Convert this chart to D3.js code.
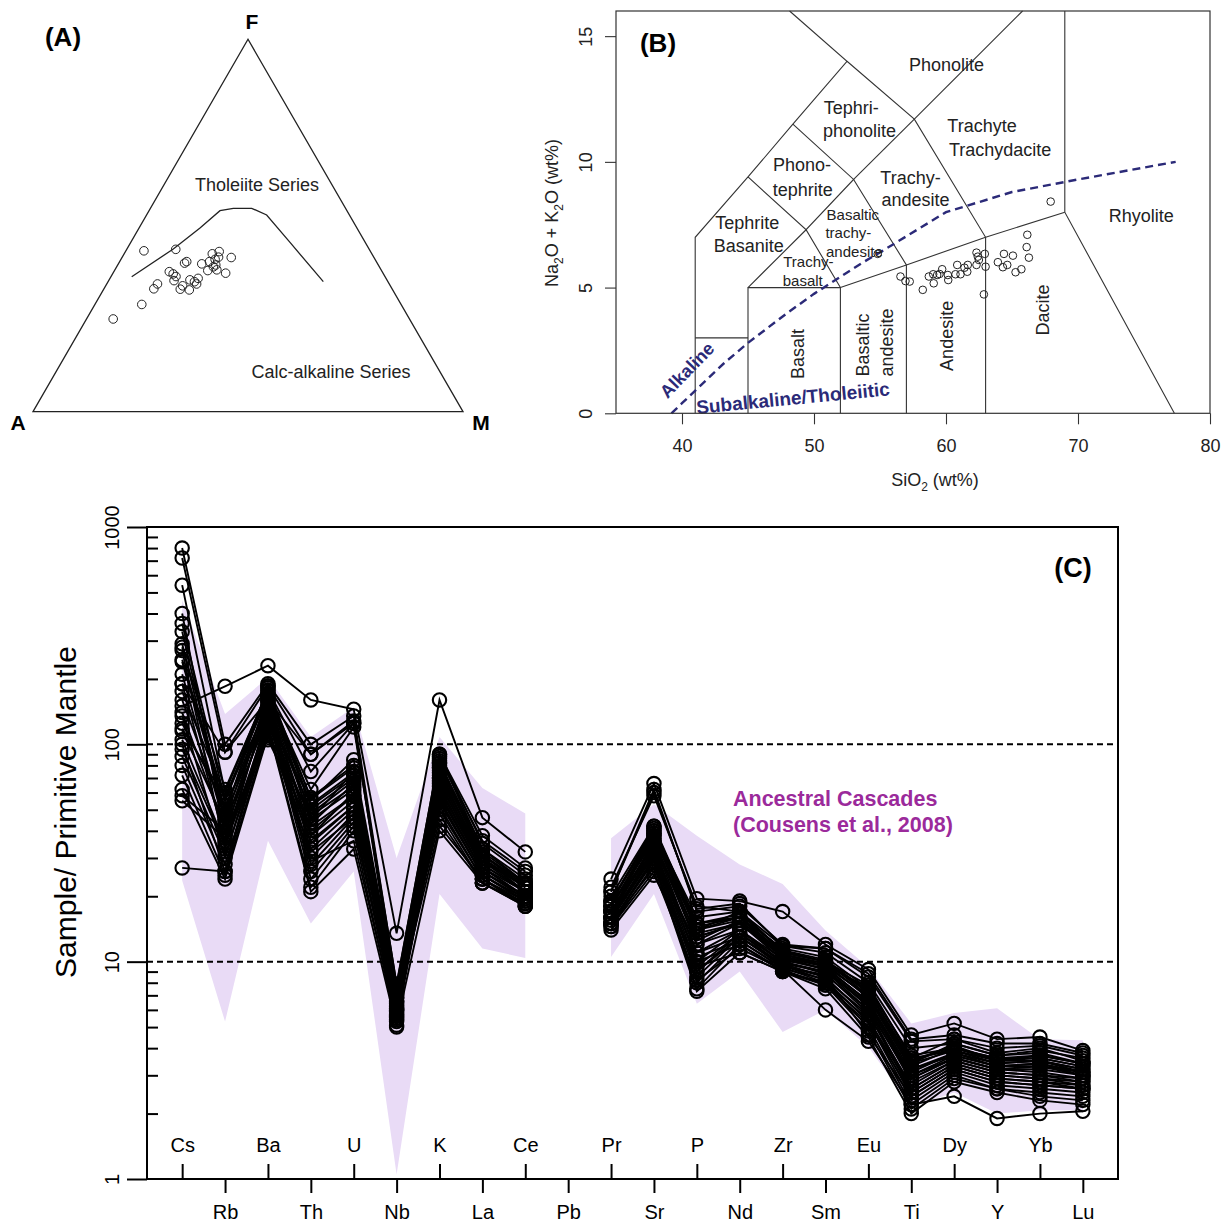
<!DOCTYPE html>
<html><head><meta charset="utf-8">
<script src="https://cdn.jsdelivr.net/npm/d3@7"></script>
<style>
body{margin:0;background:#fff}
svg{display:block}
text{font-family:"Liberation Sans",Arial,Helvetica,sans-serif}
</style>
</head><body>
<svg id="c" width="1222" height="1224"></svg>
<script>
// ================= DATA =================
// Panel A: AFM ternary (percent F and M; A = 100 - F - M)
const afmCurveF = [36.25, 43.69, 49.33, 53.97, 54.62, 54.62, 52.82, 45.46, 34.91];
const afmCurveM = [4.83, 10.78, 14.17, 16.5, 19.28, 23.55, 27.93, 37.04, 50.06];
const afmF = [43.2,43.6,34.3,33.0,28.8,24.9,37.6,37.0,36.3,35.2,33.8,32.9,32.7,39.9,40.3,35.4,34.9,35.8,34.3,39.7,37.9,40.3,42.4,40.9,38.9,38.1,43.0,41.5,39.4,41.4,37.2];
const afmM = [4.2,11.4,11.8,11.6,10.9,6.2,12.9,14.1,15.1,15.2,17.9,17.8,20.0,15.3,15.6,18.8,20.1,20.5,20.9,19.4,21.7,20.9,20.5,21.9,22.5,23.7,21.8,22.4,22.8,25.4,26.2];

// Panel B: TAS diagram
const tasSiO2 = [56.55,56.93,57.25,58.24,58.70,59.03,59.07,59.33,59.51,59.71,60.14,60.17,60.72,60.85,61.10,61.40,61.61,61.65,62.31,62.41,62.31,62.49,62.94,63.00,62.87,63.93,64.39,64.64,64.31,65.07,65.27,65.71,66.16,66.11,66.28,67.93,54.83];
const tasAlk  = [5.44,5.26,5.24,4.91,5.44,5.53,5.17,5.50,5.54,5.73,5.50,5.30,5.53,5.90,5.53,5.79,5.63,5.90,6.39,6.23,5.90,6.10,6.34,5.83,4.73,6.01,6.34,5.90,5.81,6.27,5.61,5.73,7.10,6.61,6.19,8.42,6.34];
const tasFields = [
  [[41,0],[41,7],[45,9.4],[48.4,11.5],[52.5,14],[48.15,16]],
  [[41,3],[45,3]],
  [[45,0],[45,5],[52,5],[52,0]],
  [[45,5],[49.4,7.3],[52,5]],
  [[45,9.4],[49.4,7.3],[53,9.3],[48.4,11.5]],
  [[53,9.3],[57.6,11.7]],
  [[52,5],[57,5.9],[63,7],[69,8]],
  [[57,0],[57,5.9],[53,9.3]],
  [[63,0],[63,7],[57.6,11.7],[52.5,14]],
  [[57.6,11.7],[65.8,16]],
  [[69,16],[69,8],[77.3,0]]
];
const ibSiO2 = [39.2,40,43.2,45,48,50,53.7,55,60,65,70,77.4];
const ibAlk  = [0,0.4,2.0,2.8,4.0,4.75,6.0,6.4,8.0,8.8,9.3,10.0];
const tasLabels = [
  {t:"Phonolite",x:60.04,y:13.86,rot:0,small:false},
  {t:"Tephri-",x:52.83,y:12.15,rot:0,small:false},
  {t:"phonolite",x:53.44,y:11.24,rot:0,small:false},
  {t:"Phono-",x:49.09,y:9.88,rot:0,small:false},
  {t:"tephrite",x:49.15,y:8.91,rot:0,small:false},
  {t:"Trachyte",x:62.73,y:11.44,rot:0,small:false},
  {t:"Trachydacite",x:64.10,y:10.50,rot:0,small:false},
  {t:"Trachy-",x:57.31,y:9.38,rot:0,small:false},
  {t:"andesite",x:57.69,y:8.49,rot:0,small:false},
  {t:"Tephrite",x:44.94,y:7.59,rot:0,small:false},
  {t:"Basanite",x:45.05,y:6.68,rot:0,small:false},
  {t:"Basaltic",x:52.94,y:7.89,rot:0,small:true},
  {t:"trachy-",x:52.60,y:7.17,rot:0,small:true},
  {t:"andesite",x:53.06,y:6.42,rot:0,small:true},
  {t:"Trachy-",x:49.57,y:6.04,rot:0,small:true},
  {t:"basalt",x:49.15,y:5.26,rot:0,small:true},
  {t:"Basalt",x:48.77,y:2.36,rot:-90,small:false},
  {t:"Basaltic",x:53.70,y:2.72,rot:-90,small:false},
  {t:"andesite",x:55.52,y:2.82,rot:-90,small:false},
  {t:"Andesite",x:60.04,y:3.08,rot:-90,small:false},
  {t:"Dacite",x:67.36,y:4.11,rot:-90,small:false},
  {t:"Rhyolite",x:74.80,y:7.86,rot:0,small:false}
];

// Panel C: primitive-mantle normalised spider diagram
const elements = ["Cs","Rb","Ba","Th","U","Nb","K","La","Ce","Pb","Pr","Sr","P","Nd","Zr","Sm","Eu","Ti","Dy","Y","Yb","Lu"];
const yTicks = [1,10,100,1000];
const bandUpper = [460,138,203,108,148,30,108,63,48,null,37,53,38,28,22.8,13.9,9.4,5.2,5.8,6.1,4.4,4.35];
const bandLower = [23.6,5.3,36,15,26,1.05,20.5,11.5,10.4,null,10.5,20.5,6.4,9.0,4.75,6.0,4.05,2.15,2.5,2.0,2.07,2.07];
const samples = [
 [150,185,230,160,145,13.5,160,46,32,null,24,66,19.5,19,17,12,9.2,4.6,5.2,4.4,4.5,3.9],
 [800,100,190,100,135,7.8,90,38,27,null,21,62,17,18,12,11.5,8.5,4.3,4.4,4.0,4.1,3.7],
 [720,92,185,90,128,7.2,86,36,26,null,22,58,18,17,11.8,11,8.0,4.0,4.2,3.7,3.9,3.6],
 [540,60,178,75,125,6.8,82,33,24,null,20,42,15,16,11.5,10.5,7.5,3.7,4.0,3.6,3.7,3.4],
 [400,38,172,57,80,6.5,78,31,23,null,19,40,14,17,11.2,10,7.2,3.5,4.1,3.5,3.5,3.2],
 [360,55,168,52,72,6.0,72,30,22,null,18,38,13,15,10.8,9.8,6.8,3.2,3.8,3.3,3.3,3.1],
 [290,45,165,48,68,6.2,70,29,22,null,18,36,12,15,10.5,9.5,6.5,3.0,3.6,3.2,3.2,3.0],
 [270,33,160,45,62,5.8,66,28,21,null,17,35,11,14,10.3,9.2,6.2,2.8,3.5,3.1,3.0,2.9],
 [240,50,158,40,58,5.5,64,27,21,null,17,34,10,14,10,9,6.0,2.6,3.4,3.0,2.9,2.8],
 [210,42,155,38,55,6.4,62,27,20,null,16,33,9.5,13.5,10,8.8,5.8,2.5,3.3,2.9,2.8,2.7],
 [190,36,150,35,52,5.9,60,26,20,null,16,32,9,13,9.8,8.5,5.5,2.4,3.2,2.8,2.7,2.6],
 [175,58,148,33,50,7.0,58,26,19.5,null,15.5,31,8.5,13,9.6,8.2,5.3,2.3,3.1,2.7,2.6,2.5],
 [160,47,145,30,48,6.6,56,25,19,null,15,30,8,12.5,9.4,8,5.0,2.2,3.0,2.6,2.5,2.4],
 [140,40,140,28,46,5.3,54,25,19,null,15,29,7.5,12,9.2,7.8,4.8,2.1,2.9,2.6,2.4,2.3],
 [135,30,138,26,44,5.6,52,24,18.5,null,14.5,28,7.3,11,9,7.5,4.5,2.0,2.8,2.5,2.3,2.2],
 [125,52,135,24,42,6.1,50,24,18,null,14.5,26,8.2,11.5,9.2,6.0,4.3,2.2,2.4,1.9,2.0,2.05],
 [115,44,132,55,85,7.4,48,23,18,null,16,40,16,17,11,10,7.8,3.6,4.4,3.8,4.0,3.5],
 [105,35,128,45,75,6.9,45,23,18.5,null,17,38,15,16,10.8,9.8,7.4,3.4,4.2,3.7,3.8,3.4],
 [100,26,125,38,60,6.3,42,24,19,null,18,37,14,16,10.5,9.5,7.0,3.3,4.0,3.5,3.6,3.3],
 [95,34,122,22,40,5.1,40,23,18,null,16,36,13,15,10.2,9.3,6.6,3.1,3.8,3.4,3.5,3.1],
 [88,31,120,21,33,5.0,88,33,23,null,15,30,12,14,9.8,9,6.3,3.0,3.7,3.3,3.4,3.0],
 [80,28,118,29,36,5.4,82,30,21,null,17,33,11,13,9.5,8.7,6.0,2.9,3.6,3.2,3.1,2.9],
 [72,25,115,32,46,5.7,76,29,21,null,16,32,10.5,12.5,9.3,8.3,5.7,2.7,3.5,3.1,3.0,2.8],
 [62,24,110,36,52,6.0,68,27,20,null,14,25,10,12,9.0,8,5.4,2.6,3.4,3.0,2.9,2.7],
 [58,40,105,42,58,6.6,60,26,20,null,15,27,9.5,11,9,7.8,5.2,2.5,3.3,2.9,2.8,2.6],
 [55,37,112,47,64,6.8,56,25,19.5,null,16,31,9,13.5,9.6,8.5,4.6,2.4,3.2,2.8,2.7,2.6],
 [27,26,140,50,70,7.1,70,28,21,null,17,35,12.5,15.5,10.5,9.2,6.4,2.9,3.6,3.2,3.3,3.0],
 [245,55,182,56,78,7.6,74,30,22,null,18,39,14.5,16,11,10,7.0,3.4,3.9,3.4,3.5,3.2],
 [280,62,176,53,74,7.3,80,32,23,null,19,41,15,16.5,11.3,10.2,7.3,3.5,4.0,3.6,3.6,3.3],
 [330,48,186,43,66,6.1,84,31,22.5,null,18.5,42,13.5,15,10.6,9.6,6.9,3.2,3.7,3.3,3.4,3.1],
 [190,92,160,90,125,7.9,90,35,25,null,21,60,17.5,18.5,11.8,11.5,8.8,4.4,4.6,4.2,4.2,3.8],
 [118,57,170,62,120,7.6,78,31,22,null,19,39,14,15.5,10.8,9.6,7.6,3.6,3.9,3.5,3.7,3.4]
];

// ================= DRAW =================
const svg = d3.select("#c");
const FONT = '"Liberation Sans",Arial,Helvetica,sans-serif';

// ---------- Panel A ----------
{
  const g = svg.append("g");
  const ax = d3.scaleLinear().domain([0,100]).range([33,463]);
  const ay = d3.scaleLinear().domain([0,100]).range([411.7,39.3]);
  const px = (F,M) => ax(M + F/2), py = F => ay(F);
  const tri = [[0,0],[0,100],[100,0]]; // [F,M] for A, M, F vertices
  g.append("path")
    .attr("d", d3.line().x(d=>px(d[0],d[1])).y(d=>py(d[0]))(tri) + "Z")
    .attr("fill","none").attr("stroke","#222").attr("stroke-width",1.3);
  g.append("path")
    .attr("d", d3.line().x((d,i)=>px(afmCurveF[i],afmCurveM[i])).y((d,i)=>py(afmCurveF[i]))(afmCurveF))
    .attr("fill","none").attr("stroke","#222").attr("stroke-width",1.3);
  g.selectAll("circle.a").data(afmF).join("circle")
    .attr("cx",(d,i)=>px(afmF[i],afmM[i])).attr("cy",(d,i)=>py(afmF[i]))
    .attr("r",4.3).attr("fill","none").attr("stroke","#222").attr("stroke-width",1);
  g.append("text").attr("x",63).attr("y",46).attr("text-anchor","middle")
    .attr("font-size",26).attr("font-weight","bold").text("(A)");
  g.append("text").attr("x",252).attr("y",29).attr("text-anchor","middle")
    .attr("font-size",21).attr("font-weight","bold").text("F");
  g.append("text").attr("x",18).attr("y",430).attr("text-anchor","middle")
    .attr("font-size",21).attr("font-weight","bold").text("A");
  g.append("text").attr("x",481).attr("y",430).attr("text-anchor","middle")
    .attr("font-size",21).attr("font-weight","bold").text("M");
  g.append("text").attr("x",257).attr("y",191).attr("text-anchor","middle")
    .attr("font-size",18).attr("fill","#222").text("Tholeiite Series");
  g.append("text").attr("x",331).attr("y",378).attr("text-anchor","middle")
    .attr("font-size",18).attr("fill","#222").text("Calc-alkaline Series");
}

// ---------- Panel B ----------
{
  const g = svg.append("g");
  const bx = d3.scaleLinear().domain([35,80]).range([616,1210]);
  const by = d3.scaleLinear().domain([0,16]).range([413.3,11]);
  const line = d3.line().x(d=>bx(d[0])).y(d=>by(d[1]));
  g.selectAll("path.f").data(tasFields).join("path")
    .attr("d",line).attr("fill","none").attr("stroke","#333").attr("stroke-width",1.1);
  // Irvine & Baragar line
  g.append("path")
    .attr("d", d3.line().x((d,i)=>bx(ibSiO2[i])).y((d,i)=>by(ibAlk[i]))(ibSiO2))
    .attr("fill","none").attr("stroke","#2b2a78").attr("stroke-width",2.4).attr("stroke-dasharray","8,5");
  // labels
  tasLabels.forEach(l=>{
    g.append("text")
      .attr("transform",`translate(${bx(l.x)},${by(l.y)}) rotate(${l.rot})`)
      .attr("text-anchor","middle").attr("dy","0.35em")
      .attr("font-size", l.small?15:18).attr("fill","#222").text(l.t);
  });
  g.append("text").attr("transform","translate(687,370) rotate(-46)")
    .attr("text-anchor","middle").attr("dy","0.35em")
    .attr("font-size",18).attr("font-weight","bold").attr("fill","#2b2a78").text("Alkaline");
  g.append("text").attr("transform","translate(793,398) rotate(-5.5)")
    .attr("text-anchor","middle").attr("dy","0.35em")
    .attr("font-size",19).attr("font-weight","bold").attr("fill","#2b2a78").text("Subalkaline/Tholeiitic");
  // points
  g.selectAll("circle.b").data(tasSiO2).join("circle")
    .attr("cx",(d,i)=>bx(tasSiO2[i])).attr("cy",(d,i)=>by(tasAlk[i]))
    .attr("r",3.8).attr("fill","none").attr("stroke","#222").attr("stroke-width",1);
  // frame
  g.append("rect").attr("x",616).attr("y",11).attr("width",1210-616).attr("height",413.3-11)
    .attr("fill","none").attr("stroke","#333").attr("stroke-width",1.2);
  // axes
  const yA = g.append("g").attr("transform","translate(616,0)")
    .call(d3.axisLeft(by).tickValues([0,5,10,15]).tickSize(11).tickFormat(d3.format("d")));
  yA.select(".domain").remove();
  yA.selectAll("line").attr("stroke","#333").attr("stroke-width",1.1);
  yA.selectAll("text").attr("transform","rotate(-90)").attr("x",0).attr("y",-24).attr("dy",0)
    .attr("text-anchor","middle").attr("font-size",18).attr("font-family",FONT).attr("fill","#222");
  const xA = g.append("g").attr("transform","translate(0,413.3)")
    .call(d3.axisBottom(bx).tickValues([40,50,60,70,80]).tickSize(11).tickFormat(d3.format("d")));
  xA.select(".domain").remove();
  xA.selectAll("line").attr("stroke","#333").attr("stroke-width",1.1);
  xA.selectAll("text").attr("y",38.4).attr("dy",0).attr("font-size",18).attr("font-family",FONT).attr("fill","#222");
  // titles
  const xt = g.append("text").attr("x",935).attr("y",486).attr("text-anchor","middle").attr("font-size",18).attr("fill","#222");
  xt.append("tspan").text("SiO");
  xt.append("tspan").attr("dy",5).attr("font-size",12).text("2");
  xt.append("tspan").attr("dy",-5).text(" (wt%)");
  const yt = g.append("text").attr("transform","translate(558,213) rotate(-90)")
    .attr("text-anchor","middle").attr("font-size",18).attr("fill","#222");
  yt.append("tspan").text("Na");
  yt.append("tspan").attr("dy",5).attr("font-size",12).text("2");
  yt.append("tspan").attr("dy",-5).text("O + K");
  yt.append("tspan").attr("dy",5).attr("font-size",12).text("2");
  yt.append("tspan").attr("dy",-5).text("O (wt%)");
  g.append("text").attr("x",658).attr("y",52).attr("text-anchor","middle")
    .attr("font-size",26).attr("font-weight","bold").text("(B)");
}

// ---------- Panel C ----------
{
  const g = svg.append("g");
  const cx = d3.scaleLinear().domain([-0.82,21.82]).range([147,1118]);
  const cy = d3.scaleLog().domain([1,1000]).range([1179,527]);
  // reference band
  g.append("path")
    .attr("d", d3.area()
      .defined((d,i)=>bandUpper[i]!=null)
      .x((d,i)=>cx(i)).y0((d,i)=>cy(bandLower[i])).y1((d,i)=>cy(bandUpper[i]))(elements))
    .attr("fill","#e9dbf6").attr("stroke","none");
  // dashed reference lines
  g.selectAll("line.ref").data([10,100]).join("line")
    .attr("x1",147).attr("x2",1118).attr("y1",d=>cy(d)).attr("y2",d=>cy(d))
    .attr("stroke","#000").attr("stroke-width",2).attr("stroke-dasharray","6,4");
  // sample lines
  const sl = d3.line().defined(v=>v!=null).x((v,i)=>cx(i)).y(v=>cy(v));
  g.selectAll("path.s").data(samples).join("path")
    .attr("d",sl).attr("fill","none").attr("stroke","#000").attr("stroke-width",1.9);
  // circles
  const pts = [];
  samples.forEach(s=>s.forEach((v,i)=>{ if(v!=null) pts.push([i,v]); }));
  g.selectAll("circle.s").data(pts).join("circle")
    .attr("cx",d=>cx(d[0])).attr("cy",d=>cy(d[1])).attr("r",6.7)
    .attr("fill","none").attr("stroke","#000").attr("stroke-width",2.1);
  // frame
  g.append("rect").attr("x",147).attr("y",527).attr("width",1118-147).attr("height",1179-527)
    .attr("fill","none").attr("stroke","#000").attr("stroke-width",2);
  // y axis
  const yA = g.append("g").attr("transform","translate(147,0)")
    .call(d3.axisLeft(cy).tickValues(yTicks).tickSize(20).tickFormat(d3.format("d")));
  yA.select(".domain").remove();
  yA.selectAll("line").attr("stroke","#000").attr("stroke-width",2);
  yA.selectAll("text").attr("transform","rotate(-90)").attr("x",0).attr("y",-28).attr("dy",0)
    .attr("text-anchor","middle").attr("font-size",20).attr("font-family",FONT).attr("fill","#000");
  const minor = [];
  [1,10,100].forEach(b=>{ for(let k=2;k<=9;k++) minor.push(b*k); });
  const yM = g.append("g").attr("transform","translate(147,0)")
    .call(d3.axisRight(cy).tickValues(minor).tickSize(11).tickFormat(""));
  yM.select(".domain").remove();
  yM.selectAll("line").attr("stroke","#000").attr("stroke-width",2);
  // x axes (alternating rows)
  const xTop = g.append("g").attr("transform","translate(0,1179)")
    .call(d3.axisTop(cx).tickValues(d3.range(0,22,2)).tickSize(15).tickFormat(i=>elements[i]));
  xTop.select(".domain").remove();
  xTop.selectAll("line").attr("stroke","#000").attr("stroke-width",2);
  xTop.selectAll("text").attr("y",-27).attr("dy",0).attr("font-size",20).attr("font-family",FONT).attr("fill","#000");
  const xBot = g.append("g").attr("transform","translate(0,1179)")
    .call(d3.axisBottom(cx).tickValues(d3.range(1,22,2)).tickSize(14).tickFormat(i=>elements[i]));
  xBot.select(".domain").remove();
  xBot.selectAll("line").attr("stroke","#000").attr("stroke-width",2);
  xBot.selectAll("text").attr("y",40).attr("dy",0).attr("font-size",20).attr("font-family",FONT).attr("fill","#000");
  // titles
  g.append("text").attr("transform","translate(76,812) rotate(-90)").attr("text-anchor","middle")
    .attr("font-size",30).attr("fill","#000").text("Sample/ Primitive Mantle");
  g.append("text").attr("x",1073).attr("y",577).attr("text-anchor","middle")
    .attr("font-size",27).attr("font-weight","bold").text("(C)");
  g.append("text").attr("x",733).attr("y",806).attr("font-size",21.5).attr("font-weight","bold")
    .attr("fill","#9b2a9b").text("Ancestral Cascades");
  g.append("text").attr("x",733).attr("y",832).attr("font-size",21.5).attr("font-weight","bold")
    .attr("fill","#9b2a9b").text("(Cousens et al., 2008)");
}
</script>
</body></html>
